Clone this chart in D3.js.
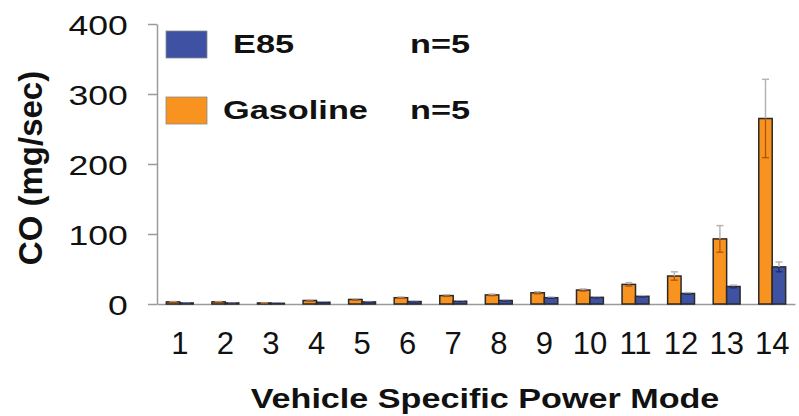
<!DOCTYPE html>
<html>
<head>
<meta charset="utf-8">
<script src="https://cdn.jsdelivr.net/npm/d3@7"></script>
<style>
  html, body { margin: 0; padding: 0; background: #fff; }
  svg { display: block; font-family: "Liberation Sans", Arial, sans-serif; }
</style>
</head>
<body>
<svg id="chart" width="799" height="416"></svg>
<script>
// VSP mode bins and mean CO emission rates (mg/sec) with error bars
const modes = ["1","2","3","4","5","6","7","8","9","10","11","12","13","14"];
const gasoline = [3, 3, 1.5, 5, 6.5, 9, 12, 13, 16, 20, 28, 40, 93, 265];
const gasolineErr = [0.5, 0.5, 0.3, 0.8, 1, 1, 1.2, 1.2, 1.5, 1.5, 2.5, 6, 19, 56];
const e85 = [1.5, 1.5, 1, 2.5, 3, 3.5, 4, 5, 9, 9.5, 11, 15, 25, 53];
const e85Err = [0.3, 0.3, 0.2, 0.4, 0.4, 0.5, 0.5, 0.6, 0.8, 0.8, 1, 1.2, 2, 7];
const yTicks = [0, 100, 200, 300, 400];
const seriesNames = ["E85", "Gasoline"];
const seriesN = ["n=5", "n=5"];

const ORANGE = "#F7931E", BLUE = "#3F51A3";
const svg = d3.select("#chart");

const x0 = 157, x1 = 795, yBase = 304, yTop = 24;
const x = d3.scaleBand().domain(modes).range([x0, x1]).paddingInner(0.41).paddingOuter(0.205);
const y = d3.scaleLinear().domain([0, 400]).range([yBase, yTop]);
const bw = x.bandwidth() / 2;

// y axis
const yAxis = svg.append("g").attr("transform", `translate(${x0},0)`)
  .call(d3.axisLeft(y).tickValues(yTicks).tickSize(9).tickSizeOuter(0).tickPadding(20));
yAxis.select(".domain").attr("stroke", "#9a9a9a").attr("stroke-width", 1.5);
yAxis.selectAll(".tick line").attr("stroke", "#9a9a9a").attr("stroke-width", 1.5);
yAxis.selectAll(".tick text")
  .attr("font-size", 28).attr("fill", "#111")
  .attr("font-family", "Liberation Sans, Arial, sans-serif")
  .attr("transform", "scale(1.27,1)").attr("x", -23).attr("dy", "0.36em");

// x axis
const xAxis = svg.append("g").attr("transform", `translate(0,${yBase})`)
  .call(d3.axisBottom(x).tickSize(0).tickSizeOuter(0).tickPadding(28));
xAxis.select(".domain").attr("stroke", "#9a9a9a").attr("stroke-width", 1.5);
xAxis.selectAll(".tick text")
  .attr("font-size", 31).attr("fill", "#111")
  .attr("font-family", "Liberation Sans, Arial, sans-serif")
  .attr("dy", "0.71em").attr("y", 28);

// bars
const groups = [
  { vals: gasoline, errs: gasolineErr, fill: ORANGE, off: 0, inner: "#a8500f" },
  { vals: e85, errs: e85Err, fill: BLUE, off: 1, inner: "#1d2a66" }
];
groups.forEach(g => {
  const layer = svg.append("g");
  layer.selectAll("rect").data(modes).join("rect")
    .attr("x", (d) => x(d) + g.off * bw)
    .attr("y", (d, i) => y(g.vals[i]))
    .attr("width", bw)
    .attr("height", (d, i) => yBase - y(g.vals[i]))
    .attr("fill", g.fill)
    .attr("stroke", "#2a2a2a").attr("stroke-width", 1.5);

  // error bars: grey above the bar, darker where they cross the bar
  const eb = layer.selectAll("g.err").data(modes).join("g").attr("class", "err");
  const cx = (d) => x(d) + g.off * bw + bw / 2;
  eb.append("line")
    .attr("x1", cx).attr("x2", cx)
    .attr("y1", (d, i) => y(g.vals[i] + g.errs[i]))
    .attr("y2", (d, i) => y(g.vals[i]))
    .attr("stroke", "#b5b5b5").attr("stroke-width", 1.5);
  eb.append("line")
    .attr("x1", d => cx(d) - 3.5).attr("x2", d => cx(d) + 3.5)
    .attr("y1", (d, i) => y(g.vals[i] + g.errs[i]))
    .attr("y2", (d, i) => y(g.vals[i] + g.errs[i]))
    .attr("stroke", "#b5b5b5").attr("stroke-width", 1.5);
  eb.append("line")
    .attr("x1", cx).attr("x2", cx)
    .attr("y1", (d, i) => y(g.vals[i]))
    .attr("y2", (d, i) => y(Math.max(0, g.vals[i] - g.errs[i])))
    .attr("stroke", g.inner).attr("stroke-width", 1.2);
  eb.append("line")
    .attr("x1", d => cx(d) - 3.5).attr("x2", d => cx(d) + 3.5)
    .attr("y1", (d, i) => y(Math.max(0, g.vals[i] - g.errs[i])))
    .attr("y2", (d, i) => y(Math.max(0, g.vals[i] - g.errs[i])))
    .attr("stroke", g.inner).attr("stroke-width", 1.2);
});

// axis titles
svg.append("text")
  .attr("transform", `translate(485,408) scale(1.22,1)`)
  .attr("text-anchor", "middle")
  .attr("font-size", 28).attr("font-weight", "bold").attr("fill", "#111")
  .text("Vehicle Specific Power Mode");

svg.append("text")
  .attr("transform", `translate(42,168) rotate(-90)`)
  .attr("text-anchor", "middle")
  .attr("font-size", 33).attr("font-weight", "bold").attr("fill", "#111")
  .text("CO (mg/sec)");

// legend
const legend = svg.append("g");
const legendColors = [BLUE, ORANGE];
const legendRows = [
  { ry: 31, nameX: 233 },
  { ry: 97, nameX: 223 }
];
seriesNames.forEach((name, i) => {
  const r = legendRows[i];
  legend.append("rect").attr("x", 166).attr("y", r.ry).attr("width", 41).attr("height", 27)
    .attr("fill", legendColors[i]).attr("stroke", "#8a8a8a").attr("stroke-width", 0.8);
  legend.append("text")
    .attr("transform", `translate(${r.nameX},${r.ry + 22}) scale(1.32,1)`)
    .attr("font-size", 26).attr("font-weight", "bold").attr("fill", "#111")
    .text(name);
  legend.append("text")
    .attr("transform", `translate(410,${r.ry + 22}) scale(1.32,1)`)
    .attr("font-size", 26).attr("font-weight", "bold").attr("fill", "#111")
    .text(seriesN[i]);
});
</script>
</body>
</html>
